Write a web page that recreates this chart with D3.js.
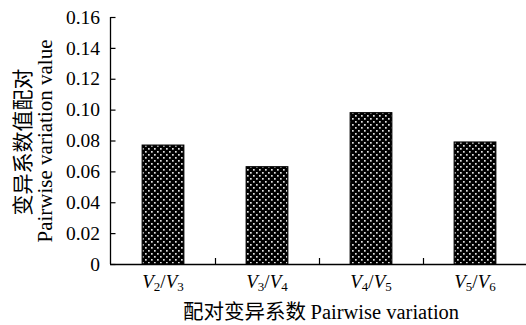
<!DOCTYPE html>
<html><head><meta charset="utf-8">
<script src="https://cdn.jsdelivr.net/npm/d3@7"></script>
<style>body{margin:0;background:#fff}svg{display:block}</style>
</head><body>
<svg id="c" width="526" height="325"></svg>
<script>
const categories = [["2","3"],["3","4"],["4","5"],["5","6"]];
const values = [0.077, 0.063, 0.098, 0.079];
const yTicks = [0, 0.02, 0.04, 0.06, 0.08, 0.10, 0.12, 0.14, 0.16];
const yTickLabels = ["0","0.02","0.04","0.06","0.08","0.10","0.12","0.14","0.16"];

const svg = d3.select("#c");
const serif = "'Liberation Serif','Times New Roman',serif";
const cjk = "'Noto Sans CJK SC',sans-serif";

const x = d3.scaleBand().domain(d3.range(values.length)).range([111, 527]).paddingInner(0.6).paddingOuter(0.3);
const y = d3.scaleLinear().domain([0, 0.16]).range([264, 17]);

const defs = svg.append("defs");
const pat = defs.append("pattern").attr("id","dots").attr("patternUnits","userSpaceOnUse")
  .attr("width",6).attr("height",6);
pat.append("rect").attr("width",6).attr("height",6).attr("fill","#000");
pat.append("rect").attr("x",1).attr("y",1).attr("width",1.7).attr("height",1.7).attr("fill","#e0e0e0");
pat.append("rect").attr("x",4).attr("y",4).attr("width",1.7).attr("height",1.7).attr("fill","#e0e0e0");

// bars
svg.selectAll("rect.bar").data(values).join("rect").attr("class","bar")
  .attr("x",(d,i)=>x(i)).attr("width",x.bandwidth())
  .attr("y",d=>y(d)).attr("height",d=>y(0)-y(d))
  .attr("fill","url(#dots)").attr("stroke","#000").attr("stroke-width",1.2);

// y axis
const yAxis = d3.axisRight(y).tickValues(yTicks).tickSize(5).tickFormat("");
const gy = svg.append("g").attr("transform","translate(110.5,0)").call(yAxis);
gy.select(".domain").attr("d","M0,"+y(0.16)+"V"+y(0)).attr("stroke","#000").attr("stroke-width",1.3);
gy.selectAll(".tick line").attr("stroke","#000").attr("stroke-width",1.2);
svg.append("g").selectAll("text").data(yTicks).join("text")
  .attr("x",100).attr("y",d=>y(d)).attr("dy","0.34em").attr("text-anchor","end")
  .attr("font-family",serif).attr("font-size",19.5).attr("fill","#000")
  .text((d,i)=>yTickLabels[i]);

// x axis
const bounds = d3.range(1, values.length).map(i => (x(i-1)+x.bandwidth()+x(i))/2);
svg.append("line").attr("x1",110).attr("x2",526).attr("y1",y(0)+0.5).attr("y2",y(0)+0.5)
  .attr("stroke","#000").attr("stroke-width",1.3);
svg.append("g").selectAll("line").data(bounds).join("line")
  .attr("x1",d=>Math.round(d)+0.5).attr("x2",d=>Math.round(d)+0.5)
  .attr("y1",y(0)).attr("y2",y(0)-6).attr("stroke","#000").attr("stroke-width",1.2);

const xl = svg.append("g").selectAll("text").data(categories).join("text")
  .attr("x",(d,i)=>x(i)+x.bandwidth()/2).attr("y",288).attr("text-anchor","middle")
  .attr("font-family",serif).attr("font-size",19).attr("fill","#000");
xl.each(function(d){
  const t = d3.select(this);
  t.append("tspan").attr("font-style","italic").text("V");
  t.append("tspan").attr("font-size",13).attr("dy",3).text(d[0]);
  t.append("tspan").attr("dy",-3).text("/");
  t.append("tspan").attr("font-style","italic").text("V");
  t.append("tspan").attr("font-size",13).attr("dy",3).text(d[1]);
});

// x title
const xt = svg.append("text").attr("x",321).attr("y",319).attr("text-anchor","middle")
  .attr("font-size",20.5).attr("fill","#000");
xt.append("tspan").attr("font-family",cjk).text("配对变异系数 ");
xt.append("tspan").attr("font-family",serif).text("Pairwise variation");

// y title
svg.append("text").attr("transform","translate(30,142) rotate(-90)").attr("text-anchor","middle")
  .attr("font-family",cjk).attr("font-size",21).attr("fill","#000").text("变异系数值配对");
svg.append("text").attr("transform","translate(52,141) rotate(-90)").attr("text-anchor","middle")
  .attr("font-family",serif).attr("font-size",21).attr("fill","#000").text("Pairwise variation value");
</script>
</body></html>
